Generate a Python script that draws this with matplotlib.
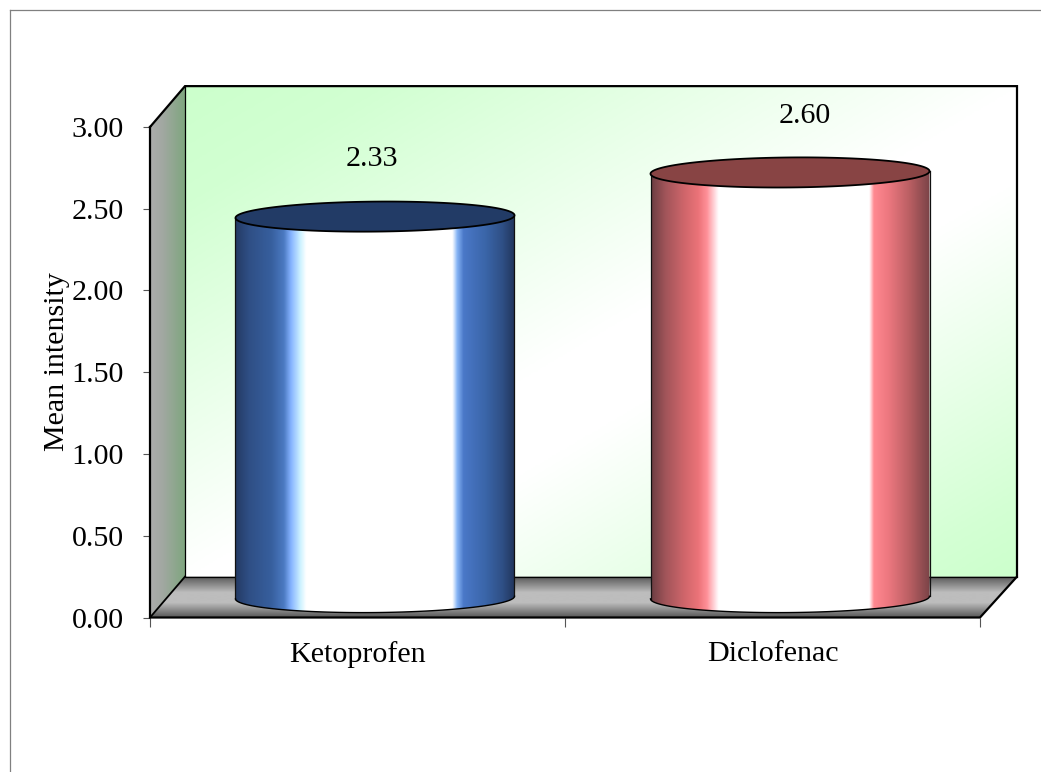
import numpy as np
import matplotlib
matplotlib.use("Agg")
import matplotlib.pyplot as plt
from matplotlib.colors import LinearSegmentedColormap, to_rgb
from matplotlib.lines import Line2D
from matplotlib.patches import PathPatch, Polygon
from matplotlib.path import Path

categories = ["Ketoprofen", "Diclofenac"]
values = [2.33, 2.60]
value_labels = ["2.33", "2.60"]
y_ticks = [0.0, 0.5, 1.0, 1.5, 2.0, 2.5, 3.0]
y_label = "Mean intensity"

W, H = 1041, 772
plt.rcParams["font.family"] = ["Liberation Serif", "DejaVu Serif"]
FONT = 21.6

fig = plt.figure(figsize=(W / 100, H / 100), dpi=100, facecolor="white")
L, R, T, B = 150, 980, 127, 617.5
ax = fig.add_axes([L / W, 1 - B / H, (R - L) / W, (B - T) / H])
ax.patch.set_visible(False)
for s in ax.spines.values():
    s.set_visible(False)

PX_X = (R - L) / 2      # pixels per x unit
PX_Y = (B - T) / 3      # pixels per y unit

# depth of the 3-D box, in data units
DX = 35 / PX_X
DX_R = 37 / PX_X
DY = 0.25
YMAX = 3.0
XMAX = 2.0


def gradient_image(rgba, extent, clip_xy, z):
    clip = PathPatch(Path(clip_xy, closed=False), transform=ax.transData)
    im = ax.imshow(rgba, extent=extent, aspect="auto", origin="upper",
                   interpolation="bilinear", zorder=z)
    im.set_clip_box(fig.bbox)
    im.set_clip_path(clip)
    return im


def ramp(stops, n=512):
    pos = [p for p, _ in stops]
    col = [to_rgb(c) for _, c in stops]
    return LinearSegmentedColormap.from_list("r", list(zip(pos, col)), N=n)


# back wall: diagonal green / white / green
wall = ramp([(0, "#CCFFCC"), (0.12, "#D2FFD2"), (0.5, "#FFFFFF"),
             (0.6, "#FFFFFF"), (0.92, "#D4FFD4"), (1, "#CCFFCC")])
u, v = np.meshgrid(np.linspace(0, 1, 400), np.linspace(0, 1, 300))
corners = [(DX, DY), (XMAX + DX_R, DY), (XMAX + DX_R, YMAX + DY), (DX, YMAX + DY), (DX, DY)]
gradient_image(wall((u + v) / 2), (DX, XMAX + DX_R, DY, YMAX + DY), corners, 1)

# side wall: horizontal grey to grey-green
side = ramp([(0, "#ACACAC"), (0.35, "#A2A8A2"), (1, "#7FA67F")])
gradient_image(side(np.linspace(0, 1, 256))[None, :, :], (0, DX, 0, YMAX + DY),
               [(0, 0), (DX, DY), (DX, YMAX + DY), (0, YMAX), (0, 0)], 2)

# floor: dark edges with a light middle band
floor = ramp([(0, "#555555"), (0.4, "#BDBDBD"), (0.65, "#BDBDBD"), (1, "#5A5A5A")])
gradient_image(floor(np.linspace(0, 1, 256))[:, None, :], (0, XMAX + DX_R, 0, DY),
               [(0, 0), (XMAX, 0), (XMAX + DX_R, DY), (DX, DY), (0, 0)], 2)

# box outline
outline = dict(color="black", clip_on=False, solid_joinstyle="miter", zorder=3)
ax.plot([0, DX, XMAX + DX_R, XMAX + DX_R, XMAX, 0, 0],
        [YMAX, YMAX + DY, YMAX + DY, DY, 0, 0, YMAX], lw=1.6, **outline)
ax.plot([0, DX], [0, DY], lw=1.3, **outline)
ax.plot([DX, DX, XMAX + DX_R], [YMAX + DY, DY, DY], lw=0.9, **outline)

# cylinder shading, left to right
blue_stops = [(0, "#243A63"), (0.05, "#2F4F85"), (0.13, "#375F9E"), (0.175, "#4B7AC2"),
              (0.2, "#85B2FF"), (0.235, "#CFF3FF"), (0.255, "#FFFFFF"), (0.78, "#FFFFFF"),
              (0.797, "#86B4F5"), (0.82, "#4A78C8"), (0.9, "#3A65A8"), (0.96, "#2F4F85"),
              (1, "#22375F")]
red_stops = [(0, "#6B3D42"), (0.05, "#A05459"), (0.12, "#D0666B"), (0.17, "#EC7379"),
             (0.2, "#FF9098"), (0.232, "#FFE4E8"), (0.242, "#FFFFFF"), (0.783, "#FFFFFF"),
             (0.8, "#FF8890"), (0.85, "#EE7880"), (0.93, "#B85E62"), (1, "#7A4347")]
cap_colors = ["#223B66", "#884444"]
shades = [blue_stops, red_stops]

HALF_W = 139.5 / PX_X
CAP_B = 15.0 / PX_Y
TILT = 1.3 / PX_Y
theta = np.linspace(0, 2 * np.pi, 241)
arc = np.linspace(np.pi, 2 * np.pi, 121)
# horizontal offset of each value label from its category centre, in points
label_dx = [10.0, 23.0]
label_dy = [55.5, 54.8]

for i, (val, stops, cap) in enumerate(zip(values, shades, cap_colors)):
    cx = i + 0.5 + 17.5 / PX_X
    base = DY / 2 - 0.003
    top = base + val
    xa = cx + HALF_W * np.cos(arc)
    ya = base + CAP_B * np.sin(arc) + TILT * np.cos(arc)
    body = np.vstack([[(cx - HALF_W, top - TILT)], np.c_[xa, ya],
                      [(cx + HALF_W, top + TILT)],
                      [(cx - HALF_W, top - TILT)]])
    shade = ramp(stops)(np.linspace(0, 1, 512))[None, :, :]
    ext = (cx - HALF_W, cx + HALF_W, base - CAP_B - 0.05, top + CAP_B)
    gradient_image(shade, ext, body, 4)
    ax.plot([cx - HALF_W, cx - HALF_W], [top - TILT, base - TILT], color="#111111",
            lw=0.9, clip_on=False, zorder=5)
    ax.plot([cx + HALF_W, cx + HALF_W], [top + TILT, base + TILT], color="#111111",
            lw=0.9, clip_on=False, zorder=5)
    ax.plot(xa, ya, color="black", lw=1.0, clip_on=False, zorder=5)
    lid = np.c_[cx + HALF_W * np.cos(theta),
                top + CAP_B * np.sin(theta) + TILT * np.cos(theta)]
    ax.add_patch(Polygon(lid, closed=True, facecolor=cap, edgecolor="black",
                         lw=1.3, clip_on=False, zorder=6))
    # value label above the cylinder
    ax.annotate(value_labels[i], xy=(i + 0.5, val), xytext=(label_dx[i], label_dy[i]),
                textcoords="offset points", ha="center", va="center",
                fontsize=FONT, color="black", zorder=7, annotation_clip=False)

ax.set_xlim(0, XMAX)
ax.set_ylim(0, YMAX)

# axis ticks and labels
tick_color = "#555555"
ax.set_yticks(y_ticks)
ax.set_yticklabels([f"{t:.2f}" for t in y_ticks], fontsize=FONT)
ax.tick_params(axis="y", length=5.2, width=0.8, color=tick_color, pad=13.5)
ax.set_xticks([0, 1, 2])
ax.set_xticklabels(["", "", ""])
ax.tick_params(axis="x", which="major", length=6.2, width=0.8, color=tick_color)
ax.set_xticks([0.5, 1.5], minor=True)
ax.set_xticklabels(categories, minor=True, fontsize=FONT)
ax.tick_params(axis="x", which="minor", length=0, pad=17.2)
ax.set_ylabel(y_label, fontsize=FONT)
ax.yaxis.set_label_coords((70 - L) / (R - L), (B - 362) / (B - T))

# chart-area frame
frame = dict(color="#808080", lw=0.9, transform=fig.transFigure)
fig.add_artist(Line2D([10 / W, 1], [1 - 10 / H] * 2, **frame))
fig.add_artist(Line2D([10 / W] * 2, [0, 1 - 10 / H], **frame))

fig.savefig("out.png", dpi=100, facecolor="white")
